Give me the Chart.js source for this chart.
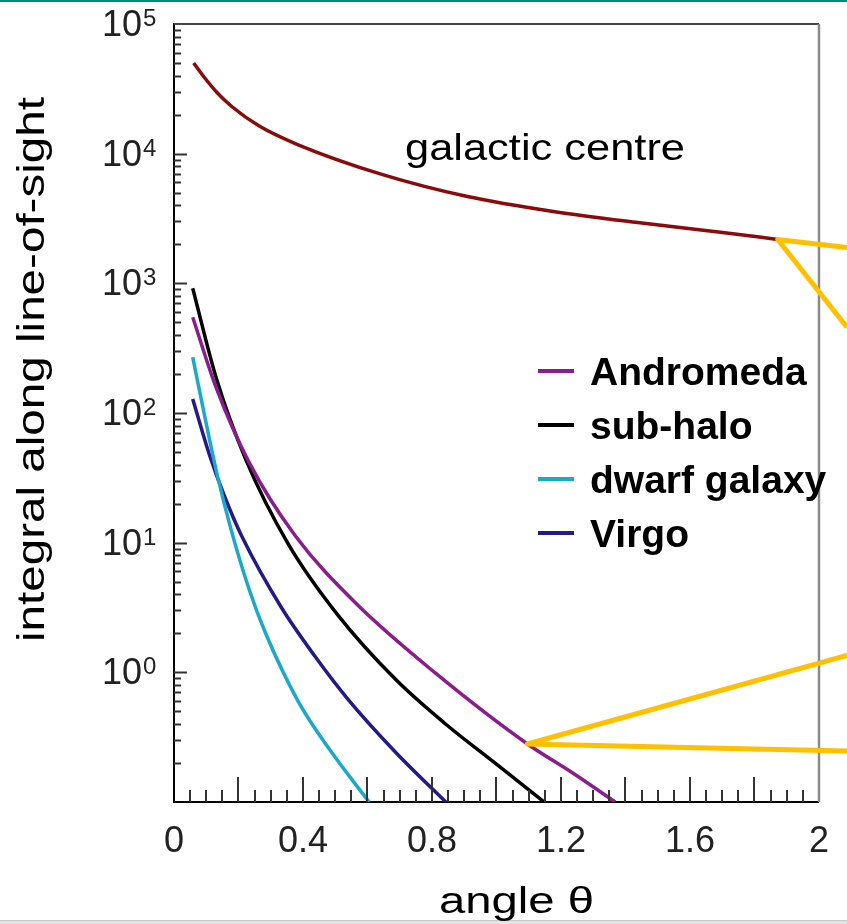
<!DOCTYPE html>
<html>
<head>
<meta charset="utf-8">
<script src="https://cdn.jsdelivr.net/npm/chart.js@4.4.1/dist/chart.umd.min.js"></script>
<style>
  html, body { margin: 0; padding: 0; background: #fff; }
  canvas { display: block; }
</style>
</head>
<body>
<canvas id="chart" width="847" height="924"></canvas>
<script>
// angle θ against the integral along the line of sight
const gcAngle = [0.061, 0.095, 0.134, 0.180, 0.263, 0.385, 0.647, 0.910, 1.176, 1.438, 1.701, 1.872];
const gcValue = [50100, 38500, 29500, 23000, 16400, 11700, 6890, 4670, 3580, 2940, 2470, 2180];

const andromedaAngle = [0.058, 0.131, 0.232, 0.376, 0.568, 0.812, 1.096, 1.240, 1.368];
const andromedaValue = [547, 156, 42, 11.3, 3.33, 0.98, 0.28, 0.165, 0.1];

const subhaloAngle = [0.058, 0.131, 0.223, 0.354, 0.507, 0.690, 0.843, 0.995, 1.148];
const subhaloValue = [916, 186, 43.5, 9.8, 2.79, 0.868, 0.398, 0.2, 0.1];

const dwarfAngle = [0.058, 0.095, 0.134, 0.177, 0.232, 0.284, 0.385, 0.486, 0.605];
const dwarfValue = [270, 94.9, 33.3, 12.6, 4.43, 2.0, 0.598, 0.247, 0.1];

const virgoAngle = [0.058, 0.110, 0.156, 0.211, 0.333, 0.437, 0.537, 0.690, 0.843];
const virgoValue = [128, 47.5, 23.0, 11.1, 3.16, 1.33, 0.631, 0.238, 0.1];

const yExponents = [0, 1, 2, 3, 4, 5];

const FONT = '"Liberation Sans", Arial, Helvetica, sans-serif';

function pts(xs, ys) {
  return xs.map((x, i) => ({ x: x, y: ys[i] }));
}

// text squeezed/stretched horizontally so it spans a given width
function fitText(ctx, s, x, y, font, width) {
  ctx.save();
  ctx.font = font;
  const w = ctx.measureText(s).width;
  ctx.translate(x, y);
  ctx.scale(width / w, 1);
  ctx.textAlign = 'left';
  ctx.fillText(s, 0, 0);
  ctx.restore();
}

const decorations = {
  id: 'decorations',
  beforeDraw(chart) {
    const ctx = chart.ctx;
    ctx.save();
    ctx.fillStyle = '#fff';
    ctx.fillRect(0, 0, chart.width, chart.height);
    ctx.fillStyle = '#00907c';
    ctx.fillRect(0, 0, chart.width, 2);
    ctx.fillStyle = '#e4e4e4';
    ctx.fillRect(0, chart.height - 4, chart.width, 4);
    ctx.fillStyle = '#c8c8c8';
    ctx.fillRect(0, chart.height - 4, chart.width, 1);
    ctx.restore();
  },
  afterDraw(chart) {
    const ctx = chart.ctx;
    const { left, right, top, bottom } = chart.chartArea;
    const xs = chart.scales.x, ys = chart.scales.y;
    ctx.save();

    // frame: top and right
    ctx.strokeStyle = '#444';
    ctx.lineWidth = 2;
    ctx.beginPath();
    ctx.moveTo(left, top); ctx.lineTo(right, top);
    ctx.stroke();
    ctx.strokeStyle = '#8a8a8a';
    ctx.lineWidth = 2.5;
    ctx.beginPath();
    ctx.moveTo(right, top); ctx.lineTo(right, bottom);
    ctx.stroke();

    // inward tick marks
    ctx.strokeStyle = '#333';
    ctx.lineWidth = 2;
    ctx.beginPath();
    for (let i = 1; i < 40; i++) {
      const px = Math.round(xs.getPixelForValue(i * 0.05));
      const len = i % 4 === 0 ? 25 : 12;
      ctx.moveTo(px, bottom); ctx.lineTo(px, bottom - len);
    }
    for (let e = -1; e <= 4; e++) {
      for (let m = 1; m <= 9; m++) {
        if (e === -1 && m === 1) continue;
        const py = Math.round(ys.getPixelForValue(m * Math.pow(10, e))) + 0.5;
        const len = m === 1 ? 13 : 7;
        ctx.moveTo(left, py); ctx.lineTo(left + len, py);
      }
    }
    ctx.stroke();

    // y tick labels with superscript exponents
    ctx.fillStyle = '#222';
    ctx.textBaseline = 'alphabetic';
    yExponents.forEach(k => {
      const py = ys.getPixelForValue(Math.pow(10, k));
      ctx.font = '36px ' + FONT;
      ctx.textAlign = 'right';
      ctx.fillText('10', left - 32, py + 12);
      ctx.font = '24px ' + FONT;
      ctx.textAlign = 'left';
      ctx.fillText(String(k), left - 31, py + 2);
    });

    // axis titles
    ctx.fillStyle = '#000';
    ctx.save();
    ctx.translate(44, 642);
    ctx.rotate(-Math.PI / 2);
    fitText(ctx, 'integral along line-of-sight', 0, 0, '38px ' + FONT, 545);
    ctx.restore();
    fitText(ctx, 'angle θ', 439, 913, '36px ' + FONT, 155);

    // curve label
    fitText(ctx, 'galactic centre', 405, 160, '37px ' + FONT, 280);

    // legend (all but the galactic centre curve)
    chart.data.datasets.slice(1).forEach((ds, i) => {
      const base = 385 + i * 54;
      ctx.strokeStyle = ds.borderColor;
      ctx.lineWidth = 4;
      ctx.beginPath();
      ctx.moveTo(538, base - 14); ctx.lineTo(574, base - 14);
      ctx.stroke();
      ctx.fillStyle = '#000';
      ctx.font = 'bold 39px ' + FONT;
      ctx.textAlign = 'left';
      ctx.fillText(ds.label, 590, base);
    });

    // yellow zoom call-outs, anchored on points of the curves
    const gcPts = chart.getDatasetMeta(0).data;
    const a1 = gcPts[gcPts.length - 1];
    const a2 = chart.getDatasetMeta(1).data[6];
    const edge = chart.width;
    ctx.strokeStyle = '#ffc000';
    ctx.lineWidth = 5;
    ctx.lineJoin = 'round';
    ctx.lineCap = 'butt';
    ctx.beginPath();
    ctx.moveTo(edge, ys.getPixelForValue(1890));
    ctx.lineTo(a1.x, a1.y);
    ctx.lineTo(edge, ys.getPixelForValue(459));
    ctx.moveTo(edge, ys.getPixelForValue(1.35));
    ctx.lineTo(a2.x, a2.y);
    ctx.lineTo(edge, ys.getPixelForValue(0.247));
    ctx.stroke();

    ctx.restore();
  }
};

function series(label, xs, ys, color) {
  return {
    label: label,
    data: pts(xs, ys),
    borderColor: color,
    borderWidth: 3.5,
    pointRadius: 0,
    fill: false,
    cubicInterpolationMode: 'monotone'
  };
}

new Chart(document.getElementById('chart'), {
  type: 'line',
  data: {
    datasets: [
      series('galactic centre', gcAngle, gcValue, '#8b0a0a'),
      series('Andromeda', andromedaAngle, andromedaValue, '#8b1c8e'),
      series('sub-halo', subhaloAngle, subhaloValue, '#000000'),
      series('dwarf galaxy', dwarfAngle, dwarfValue, '#1aa8cc'),
      series('Virgo', virgoAngle, virgoValue, '#221a88')
    ]
  },
  options: {
    responsive: false,
    animation: false,
    devicePixelRatio: 1,
    layout: { padding: { top: 24, right: 18, left: 0, bottom: 0 } },
    plugins: {
      legend: { display: false },
      tooltip: { enabled: false }
    },
    scales: {
      x: {
        type: 'linear',
        min: 0,
        max: 2,
        grid: { display: false, drawTicks: false },
        border: { display: true, color: '#000', width: 2 },
        ticks: {
          stepSize: 0.4,
          autoSkip: false,
          maxRotation: 0,
          padding: 18,
          color: '#222',
          font: { size: 36, family: FONT },
          callback: v => String(Math.round(v * 10) / 10)
        },
        afterFit: s => { s.height = 122; }
      },
      y: {
        type: 'logarithmic',
        min: 0.1,
        max: 100000,
        grid: { display: false, drawTicks: false },
        border: { display: true, color: '#000', width: 2 },
        ticks: { display: false },
        afterFit: s => { s.width = 174; }
      }
    }
  },
  plugins: [decorations]
});
</script>
</body>
</html>
